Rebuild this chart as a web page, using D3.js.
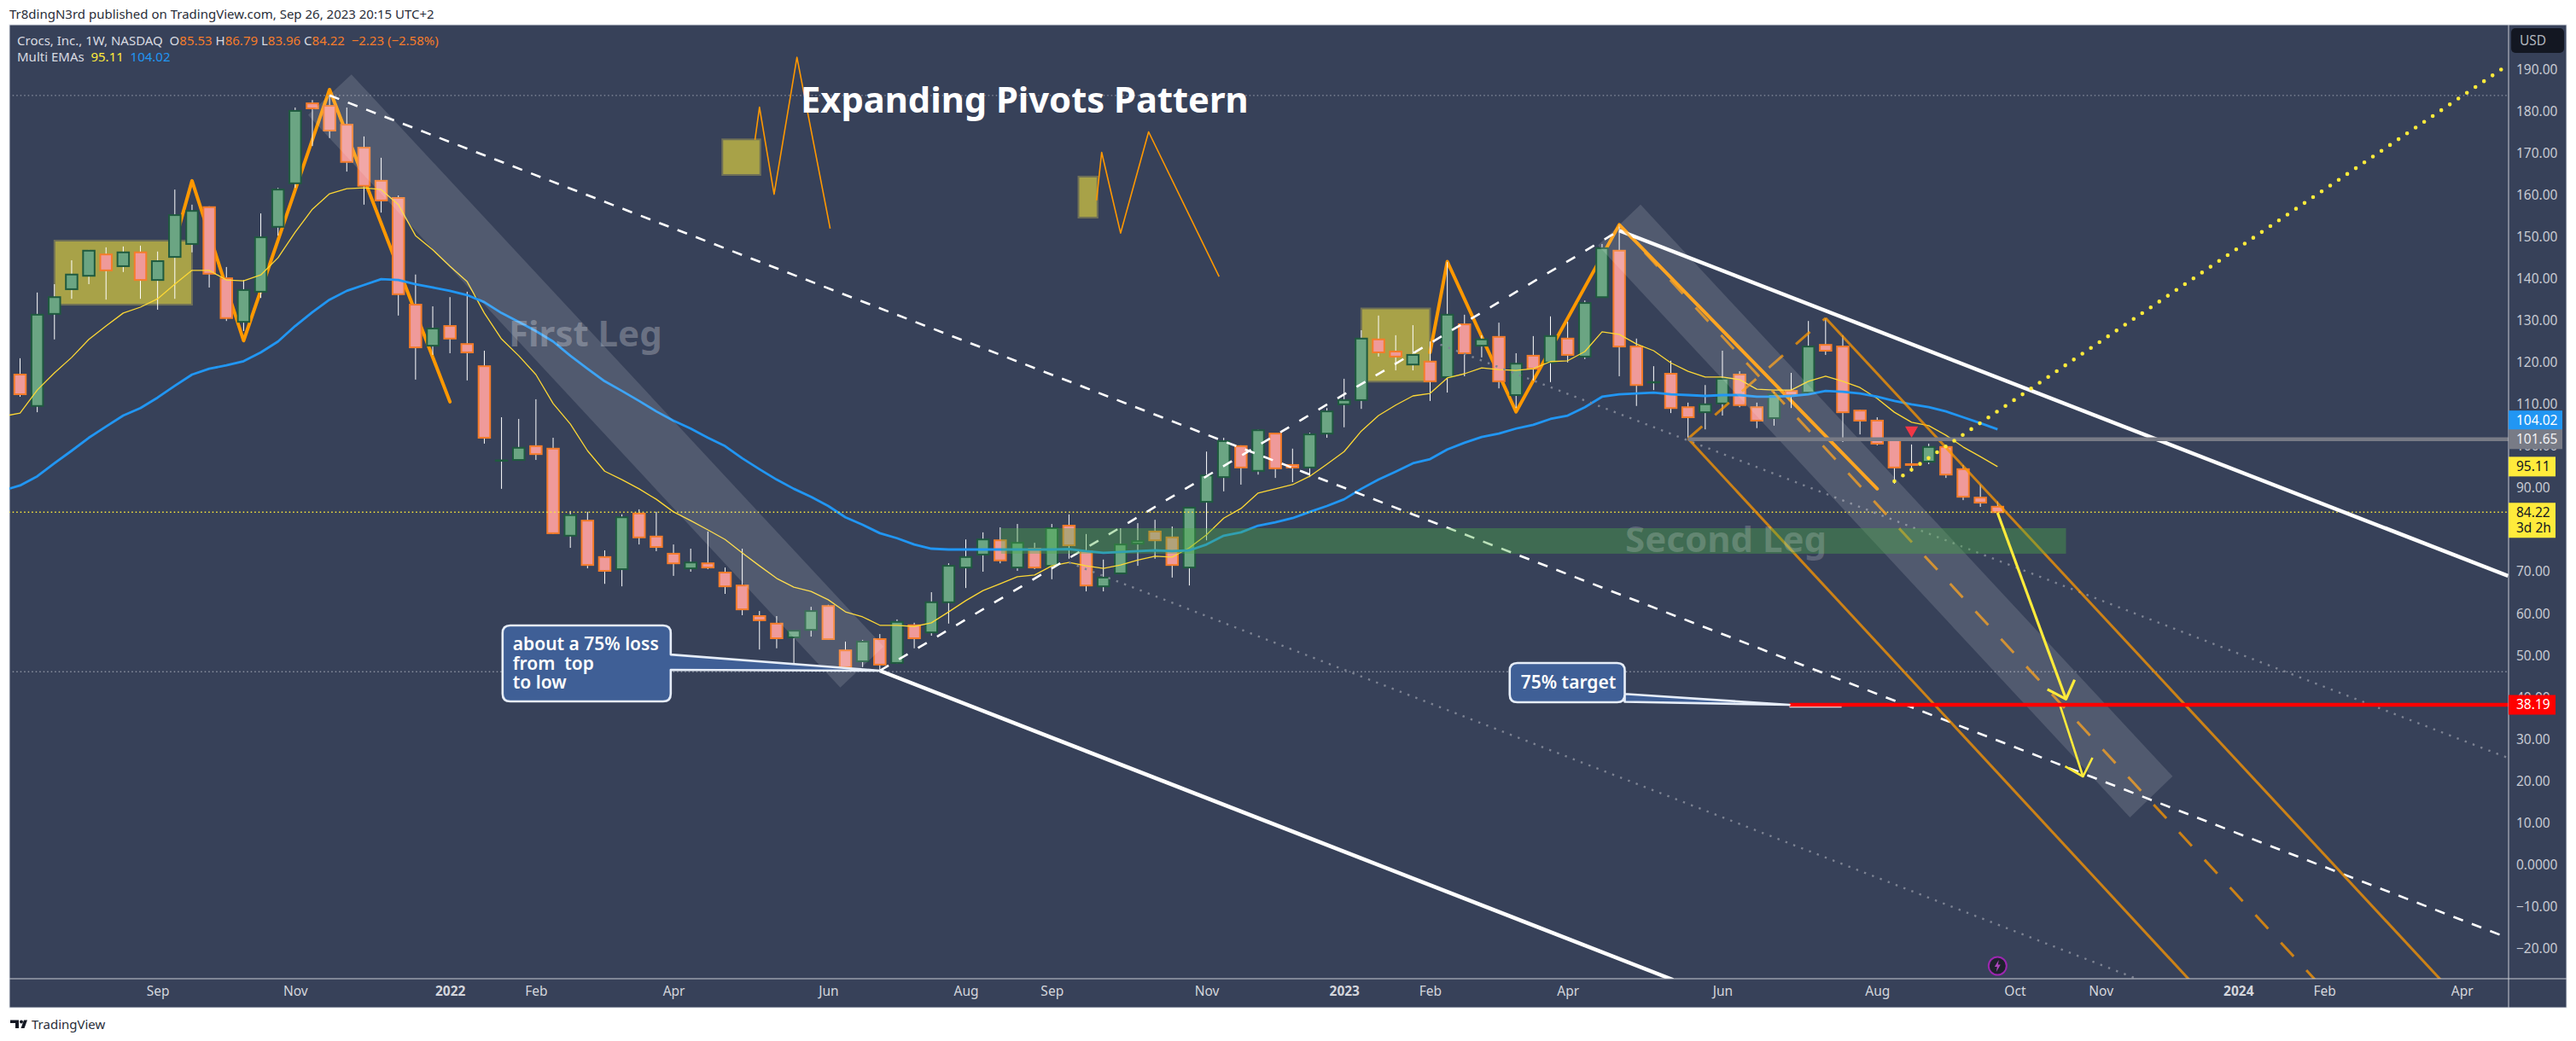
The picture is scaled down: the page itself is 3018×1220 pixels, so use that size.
<!DOCTYPE html>
<html>
<head>
<meta charset="utf-8">
<script src="https://cdn.jsdelivr.net/npm/d3@7"></script>
<style>
  html, body { margin: 0; padding: 0; background: #fff; }
  svg text { font-family: "Noto Sans", sans-serif; }
</style>
</head>
<body>
<div id="main"></div>
<script>
// weekly candles of CROX
var opens = [
  117.1,109.6,131.6,137.5,140.7,145.8,143.0,146.3,139.7,145.2,
  148.3,157.1,140.1,129.7,136.9,152.4,162.8,181.9,181.3,176.8,
  171.3,163.4,159.3,133.8,124.0,128.7,124.4,119.1,96.5,96.7,
  100.0,99.4,78.6,82.2,73.5,70.6,83.9,78.4,74.3,70.8,
  72.0,69.8,66.7,59.4,57.6,54.3,56.1,61.8,51.2,48.6,
  53.9,48.2,57.2,55.5,62.7,71.0,74.1,77.5,71.0,75.5,
  71.4,81.0,74.9,66.5,69.6,76.7,79.6,78.2,71.0,86.7,
  92.6,100.0,94.1,103.0,95.5,94.9,103.0,110.0,111.0,125.5,
  122.6,119.5,120.2,116.5,129.1,124.0,126.1,112.2,121.6,120.0,
  125.7,121.4,135.6,146.7,123.8,115.2,117.3,109.3,108.1,110.2,
  117.1,109.3,106.7,113.2,112.8,124.2,123.8,108.5,106.1,101.6,
  95.7,96.3,99.8,94.5,87.7,85.53
];
var highs = [
  121.0,136.7,138.7,144.4,146.9,147.5,147.7,147.9,146.5,161.3,
  157.7,157.3,142.8,139.7,155.6,161.7,180.9,182.7,183.8,180.9,
  174.0,168.9,159.9,141.0,133.4,135.6,136.9,122.8,106.9,106.5,
  111.2,102.0,84.5,84.3,75.1,83.7,84.9,84.3,76.5,75.5,
  79.6,71.0,75.5,60.6,59.4,55.9,61.6,62.1,53.3,53.7,
  55.1,58.6,57.8,65.1,72.0,77.7,79.4,80.6,81.4,76.9,
  81.4,83.7,79.0,72.9,80.4,81.6,82.4,80.8,85.3,98.7,
  102.0,100.2,104.0,103.0,99.4,103.2,109.1,116.1,127.7,131.2,
  126.5,128.9,125.0,144.0,131.4,126.5,129.5,122.2,126.3,131.0,
  129.7,134.8,148.3,153.0,125.7,119.1,120.4,110.4,114.6,122.8,
  117.9,110.4,113.0,117.5,129.9,130.6,126.5,108.7,106.9,101.6,
  100.4,100.6,99.8,95.5,90.8,86.79
];
var lows = [
  111.8,108.1,125.5,135.2,138.7,135.0,141.6,135.2,132.6,135.2,
  146.3,137.9,129.9,127.5,135.4,150.3,161.7,171.7,173.6,165.6,
  157.7,155.8,131.2,115.9,121.8,122.2,115.7,100.6,89.8,96.7,
  96.7,79.0,75.7,70.8,67.1,66.5,76.5,74.9,69.0,70.0,
  70.6,64.7,59.6,51.4,51.7,47.6,54.5,53.7,46.6,47.2,
  46.2,48.0,51.7,54.7,57.6,66.1,70.0,72.0,70.2,70.6,
  68.2,73.1,65.3,65.3,69.6,71.4,73.1,68.6,66.7,77.5,
  89.2,90.8,93.2,92.4,91.4,92.6,102.0,104.5,108.9,121.4,
  118.1,118.1,110.8,112.8,116.7,121.2,113.8,109.1,115.7,115.3,
  120.0,120.8,135.6,116.7,109.6,113.4,107.9,102.0,104.0,107.3,
  109.3,104.3,104.9,109.1,112.8,121.8,101.0,102.8,100.2,91.0,
  93.9,95.7,92.4,87.1,85.5,83.96
];
var closes = [
  112.4,131.4,135.6,141.0,146.7,142.0,146.3,139.7,144.2,155.2,
  156.2,141.2,130.6,137.3,149.9,161.3,180.1,180.7,175.4,167.9,
  162.2,158.7,136.3,123.6,128.1,125.7,122.4,102.0,96.6,99.6,
  98.1,79.2,83.5,71.6,70.2,83.0,78.2,75.9,72.0,72.2,
  71.0,66.5,61.0,58.4,54.1,55.9,60.6,53.9,47.2,53.3,
  47.8,58.0,54.1,62.7,71.4,73.5,77.7,72.7,76.9,71.0,
  80.4,76.3,66.7,68.6,76.5,77.3,77.5,71.6,85.3,93.0,
  101.2,94.9,103.8,94.7,94.9,102.8,108.3,111.0,125.7,122.4,
  121.4,121.8,115.5,131.4,122.2,125.5,115.5,119.7,118.5,126.3,
  121.8,134.2,147.3,123.8,114.6,115.3,109.1,106.9,110.0,116.1,
  109.8,106.1,112.4,112.2,123.8,122.8,108.1,106.1,100.6,94.9,
  95.5,99.8,93.2,87.9,86.5,84.22
];

// both EMAs start one bar before the first candle (bar -1)
var emaFast = [
  107.1,107.9,113.4,117.5,121.2,125.5,128.7,131.8,133.2,135.2,138.7,
  142.0,142.0,139.7,139.5,140.9,145.0,151.1,156.6,160.3,161.5,
  161.7,161.3,157.7,150.3,146.9,143.0,139.3,131.8,125.6,121.6,
  117.1,110.2,105.3,98.9,94.0,92.0,89.8,87.3,84.3,82.2,
  80.0,77.7,74.5,71.4,68.4,66.3,65.3,63.3,60.4,59.2,
  57.2,57.2,56.9,57.8,60.4,63.1,65.5,67.1,68.8,69.2,
  71.4,72.2,71.4,70.8,71.6,72.8,73.7,73.5,75.7,78.8,
  82.8,85.1,88.8,89.8,90.8,92.8,95.7,98.7,103.6,107.3,
  109.8,112.0,112.6,116.3,117.3,118.7,118.3,118.1,118.5,120.2,
  120.4,122.6,127.3,126.7,124.4,122.8,119.9,117.9,116.5,116.5,
  115.9,113.6,113.4,113.4,115.5,116.7,115.5,114.0,111.4,108.1,
  105.7,104.9,102.6,99.8,97.5,95.11
];
var emaSlow = [
  89.4,90.6,92.8,95.9,98.9,102.0,104.7,107.3,109.1,111.6,114.4,
  117.1,118.5,119.3,120.3,122.4,125.0,128.7,132.0,135.0,137.1,
  138.5,139.9,139.7,138.7,137.9,137.1,136.1,134.4,131.8,129.7,
  127.5,125.0,121.6,118.5,115.5,113.2,110.8,108.3,106.1,104.2,
  102.0,100.0,97.1,94.5,92.0,89.8,87.9,85.7,83.0,81.2,
  79.2,78.0,76.5,75.5,75.3,75.3,75.3,75.3,75.3,75.3,
  75.3,75.4,74.9,74.5,74.7,74.9,75.1,74.9,75.1,76.5,
  78.6,79.4,81.0,81.8,82.8,84.3,85.7,87.3,89.8,92.0,
  93.9,95.9,96.9,99.2,100.8,102.2,103.0,104.2,105.1,106.5,
  107.3,109.3,111.8,112.4,112.6,112.8,112.4,112.2,112.0,112.2,
  112.2,111.8,111.8,112.0,112.4,113.2,113.0,112.6,111.8,110.8,
  110.0,109.3,108.3,106.9,105.5,104.02
];

// axis labels
var priceTicks = [-20,-10,0,10,20,30,40,50,60,70,80,90,100,110,120,130,140,150,160,170,180,190];
var timeTickDates = [
  '2021-09-06','2021-11-01','2022-01-03','2022-02-07','2022-04-04','2022-06-06','2022-08-01',
  '2022-09-05','2022-11-07','2023-01-02','2023-02-06','2023-04-03','2023-06-05','2023-08-07',
  '2023-10-02','2023-11-06','2024-01-01','2024-02-05','2024-04-01'
];
var timeTickLabels = ['Sep','Nov','2022','Feb','Apr','Jun','Aug','Sep','Nov','2023','Feb','Apr','Jun','Aug','Oct','Nov','2024','Feb','Apr'];

// drawings, as [bar, price] pairs
var zigzagFirst = [[9,148.7],[10,163.4],[13,125.2],[18,185.2],[25,110.6]];
var zigzagSecond = [[82,122.4],[83,144.1],[87,108.2],[93,152.9],[108,89.8]];
var patternSketchA = [[42.74,173.2],[43,181],[43.85,160.2],[45.18,192.9],[47.11,152]];
var patternSketchB = [[62.6,158.7],[62.9,170.2],[64,150.9],[65.63,175.1],[69.73,140.5]];
var boxesOlive = [
  [[2,149.1],[10,133.8]],
  [[78,132.9],[82,115.4]],
  [[40.84,173.3],[43.05,164.8]],
  [[61.55,164.4],[62.66,154.6]]
];
var legFirst = [[19.27,188.8],[50.22,52.1],[47.7,42.3],[16.75,179.1]];
var legSecond = [[94.24,157.7],[125.18,21.1],[122.7,11.3],[91.76,148]];
var supportZone = [[57.05,80.4],[118.98,74.3]];

var channelUpper = [[93,151.5],[144.69,69]];
var channelLower = [[50,46.35],[96.13,-27.5]];
var channelMid = [[18,183.8],[144.69,-17.5]];
var swingUp = [[50,46.35],[93,151.5]];
var dottedA = [[61,72.2],[123.24,-27.5]];
var dottedB = [[82.14,125],[144.69,25.5]];
var forkHandle = [[97,101.8],[105,130.6]];
var forkMedian = [[93,152.9],[133.47,-27.5]];
var forkLower = [[97,101.8],[126.15,-27.5]];
var forkUpper = [[105,130.6],[140.77,-27.5]];
var yellowDots = [[109,91.6],[144.69,191.1]];
var arrowOne = [[115,84.06],[118.98,39.56]];
var arrowOneHead = [[117.9,41.9],[118.98,39.56],[119.48,44.2]];
var arrowTwo = [[118.63,38.05],[119.97,21.07]];
var arrowTwoHead = [[118.93,23.5],[119.97,21.07],[120.52,25.55]];
var targetLeader = [[102.9,37.8],[105.93,37.8]];

var topPrice = 183.8;
var bottomPrice = 46.1;
var lastClose = 84.22;
var lastEmaFast = 95.11;
var lastEmaSlow = 104.02;
var pivotLevel = 101.65;
var targetLevel = 38.19;


function Sketch() {
  this.width = 3018;
  this.height = 1220;
  this.left = 11;
  this.right = 3007;
  this.top = 29;
  this.axisX = 2939;
  this.plotBottom = 1147;
  this.bottom = 1181;
}

Sketch.prototype.init = function() {
  this.svg = d3.select('#main')
    .append('svg')
    .attr('width', this.width)
    .attr('height', this.height)
    .style('display', 'block');

  this.svg.append('defs')
    .append('clipPath')
    .attr('id', 'plot-clip')
    .append('rect')
    .attr('x', this.left)
    .attr('y', this.top)
    .attr('width', this.axisX - this.left)
    .attr('height', this.plotBottom - this.top);
};


Sketch.prototype.update = function() {
  var week = 7 * 24 * 3600 * 1000;
  var first = Date.UTC(2021, 6, 12);

  this.weekDate = function(b) { return new Date(first + b * week); };

  this.x = d3.scaleUtc()
    .domain([this.weekDate(0), this.weekDate(115)])
    .range([23.5, 2340.3]);

  this.y = d3.scaleLinear()
    .domain([-20, 190])
    .range([1111.45, 81.4]);

  var s = this;
  this.bx = function(b) { return s.x(s.weekDate(b)); };

  this.line = d3.line()
    .x(function(d) { return s.bx(d[0]); })
    .y(function(d) { return s.y(d[1]); });

  this.data = opens.map(function(o, i) {
    return {bar: i, open: o, high: highs[i], low: lows[i], close: closes[i]};
  });
};


Sketch.prototype.drawLine = function(parent, pts, color, width, dash, cap) {
  return parent.append('path')
    .attr('d', this.line(pts))
    .attr('fill', 'none')
    .attr('stroke', color)
    .attr('stroke-width', width)
    .attr('stroke-dasharray', dash || null)
    .attr('stroke-linecap', cap || 'butt')
    .attr('stroke-linejoin', 'round');
};


Sketch.prototype.renderFrame = function() {
  this.svg.append('rect')
    .attr('width', this.width)
    .attr('height', this.height)
    .attr('fill', '#fff');

  this.svg.append('rect')
    .attr('x', this.left)
    .attr('y', this.top)
    .attr('width', this.right - this.left)
    .attr('height', this.bottom - this.top)
    .attr('fill', '#374159')
    .attr('stroke', '#dfe3ea')
    .attr('stroke-width', 1);
};


Sketch.prototype.renderUnder = function(g) {
  var s = this;

  g.selectAll('rect.olive')
    .data(boxesOlive)
    .enter()
    .append('rect')
    .attr('class', 'olive')
    .attr('x', function(d) { return s.bx(d[0][0]); })
    .attr('y', function(d) { return s.y(d[0][1]); })
    .attr('width', function(d) { return s.bx(d[1][0]) - s.bx(d[0][0]); })
    .attr('height', function(d) { return s.y(d[1][1]) - s.y(d[0][1]); })
    .attr('fill', '#a8a248')
    .attr('stroke', '#6f7058')
    .attr('stroke-width', 2);

  this.drawLine(g, zigzagFirst, '#ff9800', 4, null, 'round');
  this.drawLine(g, zigzagSecond, '#ff9800', 4, null, 'round');
  this.drawLine(g, patternSketchA, '#ff9800', 1.6);
  this.drawLine(g, patternSketchB, '#ff9800', 1.6);
};


Sketch.prototype.renderCandles = function(g) {
  var s = this;
  var bodyW = 13.5;

  var candles = g.selectAll('g.candle')
    .data(this.data)
    .enter()
    .append('g')
    .attr('class', 'candle');

  candles.append('line')
    .attr('x1', function(d) { return s.bx(d.bar); })
    .attr('x2', function(d) { return s.bx(d.bar); })
    .attr('y1', function(d) { return s.y(d.high); })
    .attr('y2', function(d) { return s.y(d.low); })
    .attr('stroke', '#fff')
    .attr('stroke-width', 1);

  candles.append('rect')
    .attr('x', function(d) { return s.bx(d.bar) - bodyW / 2; })
    .attr('y', function(d) { return s.y(Math.max(d.open, d.close)); })
    .attr('width', bodyW)
    .attr('height', function(d) {
      return Math.abs(s.y(d.open) - s.y(d.close));
    })
    .attr('fill', function(d) { return d.close >= d.open ? '#6ba583' : '#ef9a9a'; })
    .attr('stroke', function(d) { return d.close >= d.open ? '#1f5a3f' : '#f57c2a'; })
    .attr('stroke-width', 2);

  var toPairs = function(v, i) { return [i - 1, v]; };
  this.drawLine(g, emaFast.map(toPairs), '#fdd835', 1.3);
  this.drawLine(g, emaSlow.map(toPairs), '#2196f3', 2.8);
};


Sketch.prototype.renderOver = function(g) {
  var s = this;

  // thin horizontals
  var lvl = function(price, color) {
    s.drawLine(g, [[-2, price], [146, price]], color, 1.3, '1.5 3');
  };
  lvl(topPrice, '#8a90a0');
  lvl(bottomPrice, '#8a90a0');
  lvl(lastClose, '#ffeb3b');

  this.drawLine(g, dottedA, '#7d8393', 2.4, '2.4 7.5');
  this.drawLine(g, dottedB, '#7d8393', 2.4, '2.4 7.5');

  this.drawLine(g, channelMid, '#fff', 2.6, '12 11');
  this.drawLine(g, swingUp, '#fff', 2.6, '12 14');
  this.drawLine(g, channelUpper, '#fff', 4.5);
  this.drawLine(g, channelLower, '#fff', 4.5);

  var fork = 'rgba(255,152,0,0.75)';
  this.drawLine(g, forkHandle, fork, 3, '22 20');
  this.drawLine(g, forkMedian, fork, 3, '22 22');
  this.drawLine(g, forkLower, fork, 3);
  this.drawLine(g, forkUpper, fork, 3);

  g.selectAll('path.leg')
    .data([legFirst, legSecond])
    .enter()
    .append('path')
    .attr('class', 'leg')
    .attr('d', function(d) { return s.line(d) + 'Z'; })
    .attr('fill', 'rgba(255,255,255,0.135)');

  g.append('rect')
    .attr('x', this.bx(supportZone[0][0]))
    .attr('y', this.y(supportZone[0][1]))
    .attr('width', this.bx(supportZone[1][0]) - this.bx(supportZone[0][0]))
    .attr('height', this.y(supportZone[1][1]) - this.y(supportZone[0][1]))
    .attr('fill', 'rgba(76,175,70,0.38)');

  this.drawLine(g, [[97, pivotLevel], [146, pivotLevel]], '#787b86', 4.5);
  this.drawLine(g, yellowDots, '#ffeb3b', 4.6, '0 12.1', 'round');

  g.append('path')
    .attr('d', d3.symbol().type(d3.symbolTriangle).size(100)())
    .attr('transform', 'translate(' + this.bx(110) + ',' + this.y(103.8) + ') rotate(180)')
    .attr('fill', '#f23645');

  this.drawLine(g, arrowOne, '#ffeb3b', 3.2);
  this.drawLine(g, arrowOneHead, '#ffeb3b', 3.2);
  this.drawLine(g, arrowTwo, '#ffeb3b', 2.6);
  this.drawLine(g, arrowTwoHead, '#ffeb3b', 2.6);

  this.renderCallout(g, [28.06, 37.84, 57.15, 39], [50.2, 46.55], [50, 46.35],
    ['about a 75% loss', 'from  top', 'to low'], 12);
  this.drawLine(g, targetLeader, '#fff', 2.4);
  this.drawLine(g, [[102.9, targetLevel], [146, targetLevel]], '#ff0000', 4.5);
  this.renderCallout(g, [86.63, 93.32, 48.18, 38.8], [40.8, 38.9], [102.9, 38.19],
    ['75% target'], 13);

  // big words
  g.append('text')
    .attr('x', 938).attr('y', 132)
    .attr('font-size', 41.7).attr('font-weight', 700)
    .attr('fill', '#fff')
    .text('Expanding Pivots Pattern');
  g.append('text')
    .attr('x', 596).attr('y', 406)
    .attr('font-size', 42).attr('font-weight', 700)
    .attr('fill', 'rgba(255,255,255,0.26)')
    .text('First Leg');
  g.append('text')
    .attr('x', 1904).attr('y', 647)
    .attr('font-size', 42).attr('font-weight', 700)
    .attr('fill', 'rgba(255,255,255,0.19)')
    .text('Second Leg');
};


Sketch.prototype.renderCallout = function(g, box, tail, tip, lines, padX) {
  var l = this.bx(box[0]), r = this.bx(box[1]);
  var t = this.y(box[2]), b = this.y(box[3]);
  var ty0 = this.y(tail[0]), ty1 = this.y(tail[1]);
  var tx = this.bx(tip[0]), ty = this.y(tip[1]);
  var rad = 9;

  var p = d3.path();
  p.moveTo(l + rad, t);
  p.lineTo(r - rad, t);
  p.quadraticCurveTo(r, t, r, t + rad);
  p.lineTo(r, ty0);
  p.lineTo(tx, ty);
  p.lineTo(r, ty1);
  p.lineTo(r, b - rad);
  p.quadraticCurveTo(r, b, r - rad, b);
  p.lineTo(l + rad, b);
  p.quadraticCurveTo(l, b, l, b - rad);
  p.lineTo(l, t + rad);
  p.quadraticCurveTo(l, t, l + rad, t);
  p.closePath();

  g.append('path')
    .attr('d', p.toString())
    .attr('fill', '#3f5f96')
    .attr('stroke', '#e6edf8')
    .attr('stroke-width', 2.6)
    .attr('stroke-linejoin', 'round');

  var lineH = 22.5;
  var top = (t + b) / 2 - (lines.length - 1) * lineH / 2;
  g.selectAll(null)
    .data(lines)
    .enter()
    .append('text')
    .attr('x', l + padX)
    .attr('y', function(d, i) { return top + i * lineH; })
    .attr('dy', '0.35em')
    .attr('font-size', 21)
    .attr('font-weight', 600)
    .attr('fill', '#fff')
    .style('white-space', 'pre')
    .text(function(d) { return d; });
};


Sketch.prototype.renderAxes = function() {
  var s = this;

  this.svg.append('line')
    .attr('x1', this.axisX).attr('x2', this.axisX)
    .attr('y1', this.top).attr('y2', this.bottom)
    .attr('stroke', '#c9ccd4').attr('stroke-width', 1);
  this.svg.append('line')
    .attr('x1', this.left).attr('x2', this.right)
    .attr('y1', this.plotBottom).attr('y2', this.plotBottom)
    .attr('stroke', '#c9ccd4').attr('stroke-width', 1);

  var yAxis = d3.axisRight(this.y)
    .tickValues(priceTicks)
    .tickSize(0)
    .tickPadding(9)
    .tickFormat(function(d) { return d === 0 ? '0.0000' : d3.format('.2f')(d); });

  var yg = this.svg.append('g')
    .attr('transform', 'translate(' + this.axisX + ',0)')
    .call(yAxis);
  yg.select('.domain').remove();
  yg.selectAll('text')
    .attr('fill', '#c8cbd3')
    .attr('font-size', 15.5)
    .style('font-family', '"Noto Sans", sans-serif');

  var xAxis = d3.axisBottom(this.x)
    .tickValues(timeTickDates.map(function(d) { return new Date(d + 'T00:00:00Z'); }))
    .tickSize(0)
    .tickPadding(9)
    .tickFormat(function(d, i) { return timeTickLabels[i]; });

  var xg = this.svg.append('g')
    .attr('transform', 'translate(0,' + this.plotBottom + ')')
    .call(xAxis);
  xg.select('.domain').remove();
  xg.selectAll('text')
    .attr('fill', '#d4d6dc')
    .attr('font-size', 15.5)
    .attr('font-weight', function(d, i) { return /^20/.test(timeTickLabels[i]) ? 700 : 400; })
    .style('font-family', '"Noto Sans", sans-serif');

  // currency box
  this.svg.append('rect')
    .attr('x', 2942).attr('y', 33)
    .attr('width', 62).attr('height', 29)
    .attr('rx', 5)
    .attr('fill', '#131722');
  this.svg.append('text')
    .attr('x', 2952).attr('y', 53)
    .attr('font-size', 15.5)
    .attr('fill', '#b2b5be')
    .text('USD');

  // price tags, bumped apart the way the platform does
  var tags = [
    {label: ['104.02'], yc: s.y(lastEmaSlow) - 10.5, h: 23, w: 63, fill: '#2196f3', color: '#fff'},
    {label: ['101.65'], yc: s.y(pivotLevel), h: 23, w: 63, fill: '#787b86', color: '#f0f1f4'},
    {label: ['95.11'], yc: s.y(lastEmaFast), h: 23, w: 55, fill: '#ffeb3b', color: '#131722'},
    {label: ['84.22', '3d 2h'], yc: s.y(lastClose) + 9.5, h: 41, w: 55, fill: '#ffeb3b', color: '#131722'},
    {label: ['38.19'], yc: s.y(targetLevel), h: 23, w: 55, fill: '#ff0000', color: '#fff'}
  ];

  var tag = this.svg.selectAll('g.tag')
    .data(tags)
    .enter()
    .append('g')
    .attr('class', 'tag');

  tag.append('rect')
    .attr('x', this.axisX)
    .attr('y', function(d) { return d.yc - d.h / 2; })
    .attr('width', function(d) { return d.w; })
    .attr('height', function(d) { return d.h; })
    .attr('fill', function(d) { return d.fill; });

  tag.each(function(d) {
    d3.select(this).selectAll('text')
      .data(d.label)
      .enter()
      .append('text')
      .attr('x', s.axisX + 9)
      .attr('y', function(t, i) { return d.yc + (i - (d.label.length - 1) / 2) * 18; })
      .attr('dy', '0.35em')
      .attr('font-size', 15.5)
      .attr('fill', d.color)
      .text(function(t) { return t; });
  });

  // lightning marker
  var cx = this.bx(115), cy = 1132;
  this.svg.append('circle')
    .attr('cx', cx).attr('cy', cy).attr('r', 10.5)
    .attr('fill', '#1e222d')
    .attr('stroke', '#9c27b0')
    .attr('stroke-width', 2);
  this.svg.append('path')
    .attr('transform', 'translate(' + cx + ',' + cy + ')')
    .attr('d', 'M1.5,-7 L-3.5,1 L-0.5,1 L-1.5,7 L3.5,-1.5 L0.5,-1.5 Z')
    .attr('fill', '#ab47bc');
};


Sketch.prototype.renderText = function() {
  this.svg.append('text')
    .attr('x', 11).attr('y', 22)
    .attr('font-size', 15)
    .attr('fill', '#2a2e39')
    .text('Tr8dingN3rd published on TradingView.com, Sep 26, 2023 20:15 UTC+2');

  var plain = '#d9dbe1', down = '#f57c2a';
  var legend = this.svg.append('text')
    .attr('x', 20).attr('y', 53)
    .attr('font-size', 15)
    .attr('fill', plain);
  legend.append('tspan').text('Crocs, Inc., 1W, NASDAQ\u00a0\u00a0O');
  legend.append('tspan').attr('fill', down).text('85.53');
  legend.append('tspan').text('\u00a0H');
  legend.append('tspan').attr('fill', down).text('86.79');
  legend.append('tspan').text('\u00a0L');
  legend.append('tspan').attr('fill', down).text('83.96');
  legend.append('tspan').text('\u00a0C');
  legend.append('tspan').attr('fill', down).text('84.22\u00a0\u00a0\u22122.23 (\u22122.58%)');

  var ema = this.svg.append('text')
    .attr('x', 20).attr('y', 72)
    .attr('font-size', 15)
    .attr('fill', plain);
  ema.append('tspan').text('Multi EMAs\u00a0\u00a0');
  ema.append('tspan').attr('fill', '#ffeb3b').text('95.11');
  ema.append('tspan').text('\u00a0\u00a0');
  ema.append('tspan').attr('fill', '#2196f3').text('104.02');

  // footer logo
  var logo = this.svg.append('g').attr('fill', '#131722');
  logo.append('path').attr('d', 'M12,1195.5 H22 V1205 H18 V1199 H12 Z');
  logo.append('circle').attr('cx', 25).attr('cy', 1197.5).attr('r', 2);
  logo.append('path').attr('d', 'M28,1195.5 H32 L28.5,1205 H24.5 Z');
  this.svg.append('text')
    .attr('x', 37).attr('y', 1206)
    .attr('font-size', 15)
    .attr('fill', '#2a2e39')
    .text('TradingView');
};


Sketch.prototype.render = function() {
  this.renderFrame();

  var g = this.svg.append('g')
    .attr('clip-path', 'url(#plot-clip)');

  this.renderUnder(g);
  this.renderCandles(g);
  this.renderOver(g);
  this.renderAxes();
  this.renderText();
};


document.addEventListener('DOMContentLoaded', function() {
  var s = new Sketch();
  s.init();
  s.update();
  s.render();
});
</script>
</body>
</html>
